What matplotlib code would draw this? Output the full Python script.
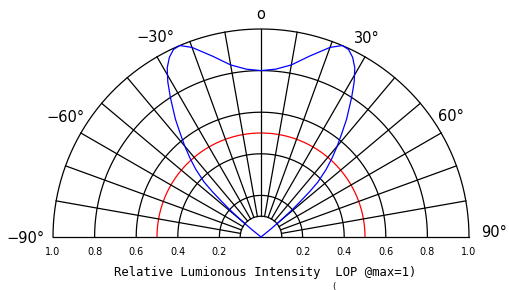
import numpy as np
import matplotlib.pyplot as plt

# relative intensity (symmetric about 0 deg)
beam_angles = [0, 5, 10, 15, 20, 23, 25, 27, 29, 31, 33, 36, 38, 40, 42,
               44, 46, 47, 48, 49, 50, 51, 52]
beam_values = [0.80, 0.81, 0.84, 0.90, 0.97, 1.00, 0.995, 0.97, 0.93, 0.87,
               0.80, 0.70, 0.63, 0.57, 0.51, 0.45, 0.38, 0.32, 0.25, 0.19,
               0.12, 0.06, 0.0]
half_power = 0.5

ring_levels = [0.1, 0.2, 0.4, 0.6, 0.8, 1.0]
spoke_angles = list(range(-80, 90, 10))
tick_values = [0.2, 0.4, 0.6, 0.8, 1.0]
tick_labels = ["0.2", "0.4", "0.6", "0.8", "1.0"]
angle_labels = ["o", "\u221230\u00b0", "30\u00b0", "\u221260\u00b0", "60\u00b0"]


def to_xy(theta_deg, r):
    t = np.radians(np.asarray(theta_deg, dtype=float))
    r = np.asarray(r, dtype=float)
    return r * np.sin(t), r * np.cos(t)


fig = plt.figure(figsize=(5.09, 2.90), dpi=100)
ax = fig.add_axes([0, 0, 1, 1])
ax.set_xlim(-261 / 208, (509 - 261) / 208)
ax.set_ylim((237 - 290) / 208, 237 / 208)
ax.axis("off")

lw = 0.9
arc = np.linspace(-90, 90, 361)
for r in ring_levels:
    x, y = to_xy(arc, np.full_like(arc, r))
    ax.plot(x, y, color="black", lw=lw)
x, y = to_xy(arc, np.full_like(arc, half_power))
ax.plot(x, y, color="red", lw=lw)

for a in spoke_angles:
    x, y = to_xy([a, a], [0.1, 1.0])
    ax.plot(x, y, color="black", lw=lw)
ax.plot([-1, 1], [0, 0], color="black", lw=lw)

# blue curve, mirrored to the left side
ang = np.array(beam_angles, dtype=float)
val = np.array(beam_values)
full_ang = np.concatenate([-ang[::-1], ang[1:]])
full_val = np.concatenate([val[::-1], val[1:]])
x, y = to_xy(full_ang, full_val)
ax.plot(x, y, color="blue", lw=lw)

# radial tick labels on both sides
for v, lab in zip(tick_values, tick_labels):
    for s in (-1, 1):
        ax.text(s * v, -0.072, lab, ha="center", va="center", fontsize=7)

# angle labels placed just outside the outer ring
label_pos = [(0, 1.07), (-28, 1.085), (28, 1.08), (-58.5, 1.1), (57.5, 1.08)]
for (a, r), lab in zip(label_pos, angle_labels):
    x, y = to_xy(a, r)
    ax.text(x, y, lab, ha="center", va="center", fontsize=10.5)
ax.text(-1.13, -0.005, "\u221290\u00b0", ha="center", va="center", fontsize=10.5)
ax.text(1.185, 0.02, "90\u00b0", ha="right", va="center", fontsize=10.5)

ax.text(0.02, -0.173, "Relative Lumionous Intensity  LOP @max=1)",
        ha="center", va="center", fontsize=8.8, family="DejaVu Sans Mono")
ax.text(0.35, -0.24, "(", ha="center", va="center", fontsize=6)

fig.savefig("out.png", dpi=100)
